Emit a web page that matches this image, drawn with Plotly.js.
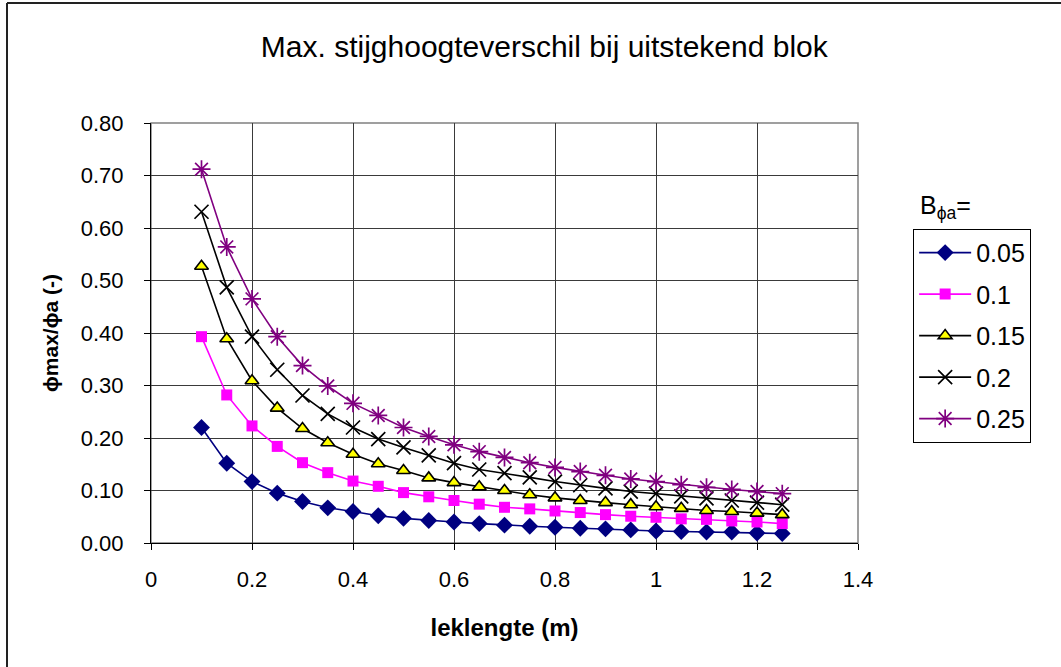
<!DOCTYPE html>
<html>
<head>
<meta charset="utf-8">
<script src="https://cdn.plot.ly/plotly-3.0.1.min.js"></script>
<style>html,body{margin:0;padding:0;background:#fff;}#chart{width:1061px;height:667px;}</style>
</head>
<body>
<div id="chart"></div>
<script>
const leklengte = [0.1,0.15,0.2,0.25,0.3,0.35,0.4,0.45,0.5,0.55,0.6,0.65,0.7,0.75,0.8,0.85,0.9,0.95,1.0,1.05,1.1,1.15,1.2,1.25];
const seriesNames = ['0.05','0.1','0.15','0.2','0.25'];
const s005 = [0.220,0.152,0.117,0.095,0.079,0.067,0.060,0.052,0.047,0.043,0.040,0.037,0.034,0.032,0.030,0.028,0.027,0.025,0.023,0.022,0.021,0.021,0.019,0.018];
const s010 = [0.393,0.282,0.223,0.184,0.153,0.134,0.118,0.108,0.096,0.088,0.081,0.074,0.068,0.065,0.061,0.058,0.054,0.051,0.049,0.046,0.045,0.042,0.040,0.037];
const s015 = [0.527,0.389,0.309,0.257,0.218,0.191,0.169,0.151,0.138,0.124,0.115,0.107,0.100,0.092,0.086,0.081,0.077,0.073,0.069,0.066,0.062,0.060,0.057,0.054];
const s020 = [0.631,0.487,0.393,0.330,0.281,0.246,0.220,0.198,0.182,0.167,0.152,0.140,0.133,0.125,0.117,0.110,0.104,0.098,0.094,0.089,0.085,0.081,0.077,0.073];
const s025 = [0.712,0.564,0.465,0.393,0.338,0.299,0.266,0.243,0.220,0.203,0.187,0.174,0.163,0.153,0.144,0.136,0.129,0.122,0.117,0.111,0.106,0.102,0.098,0.094];
const xTicks = [0,0.2,0.4,0.6,0.8,1,1.2,1.4];
const yTicks = [0,0.1,0.2,0.3,0.4,0.5,0.6,0.7,0.8];

const FONT = 'Liberation Sans, Arial, sans-serif';
const styles = [
  {line:'#000080', marker:{symbol:'diamond', size:13, color:'#000080'}},
  {line:'#FF00FF', marker:{symbol:'square', size:11, color:'#FF00FF'}},
  {line:'#000000', marker:{symbol:'triangle-up', size:12, color:'#FFFF00', line:{color:'#000000', width:1.6}}},
  {line:'#000000', marker:{symbol:'x-thin-open', size:14, color:'#000000', line:{color:'#000000', width:1.7}}},
  {line:'#800080', marker:{symbol:'asterisk-open', size:15, color:'#800080', line:{color:'#800080', width:1.7}}}
];
const ys = [s005, s010, s015, s020, s025];
const traces = ys.map((y, i) => ({
  x: leklengte, y: y, type: 'scatter', mode: 'lines+markers', name: seriesNames[i],
  legendgroup: 'g' + i,
  line: {color: styles[i].line, width: 1.6},
  marker: styles[i].marker
}));

const layout = {
  width: 1061, height: 667,
  margin: {l: 151, r: 203, t: 123, b: 124},
  paper_bgcolor: '#ffffff', plot_bgcolor: '#ffffff',
  font: {family: FONT, color: '#000'},
  title: {text: 'Max. stijghoogteverschil bij uitstekend blok', font: {family: FONT, size: 30, color: '#000'}, x: 0.513, xanchor: 'center', y: 0.93, yanchor: 'middle'},
  xaxis: {
    range: [0, 1.4], tickvals: xTicks, ticktext: xTicks.map(String),
    showgrid: true, gridcolor: '#3a3a3a', gridwidth: 1,
    showline: true, linecolor: '#000', linewidth: 1,
    ticks: 'outside', ticklen: 6, tickcolor: '#000',
    tickfont: {family: FONT, size: 22, color: '#000'},
    ticklabelstandoff: 11,
    zeroline: false,
    title: {text: '<b>leklengte (m)</b>', font: {family: FONT, size: 24, color: '#000'}, standoff: 27}
  },
  yaxis: {
    range: [0, 0.8], tickvals: yTicks, ticktext: yTicks.map(v => v.toFixed(2)),
    showgrid: true, gridcolor: '#3a3a3a', gridwidth: 1,
    showline: true, linecolor: '#000', linewidth: 1,
    ticks: 'outside', ticklen: 6, tickcolor: '#000',
    tickfont: {family: FONT, size: 22, color: '#000'},
    ticklabelstandoff: 16,
    zeroline: false,
    title: {text: '<b>ϕmax/ϕa (-)</b>', font: {family: FONT, size: 21, color: '#000'}, standoff: 16}
  },
  legend: {
    x: 1.078, xanchor: 'left', y: 0.748, yanchor: 'top',
    bordercolor: '#000', borderwidth: 1, bgcolor: '#fff',
    font: {family: FONT, size: 25, color: '#000'},
    tracegroupgap: 6, traceorder: 'grouped', itemwidth: 52
  },
  shapes: [
    {type: 'rect', xref: 'paper', yref: 'paper', x0: 0, x1: 1, y0: 0, y1: 1, line: {color: '#808080', width: 1.5}, layer: 'below'},
    {type: 'line', xref: 'paper', yref: 'paper', x0: (7-151)/707, x1: (1061-151)/707, y0: (543-3)/420, y1: (543-3)/420, line: {color: '#222', width: 2}},
    {type: 'line', xref: 'paper', yref: 'paper', x0: (7-151)/707, x1: (7-151)/707, y0: (543-3)/420, y1: -0.4, line: {color: '#222', width: 2}}
  ],
  annotations: [
    {text: 'B<sub>ϕa</sub>=', xref: 'paper', yref: 'paper', x: (918-151)/707, y: (543-207)/420, xanchor: 'left', yanchor: 'middle', showarrow: false, font: {family: FONT, size: 25, color: '#000'}}
  ]
};

Plotly.newPlot('chart', traces, layout, {displayModeBar: false, staticPlot: true});
</script>
</body>
</html>
